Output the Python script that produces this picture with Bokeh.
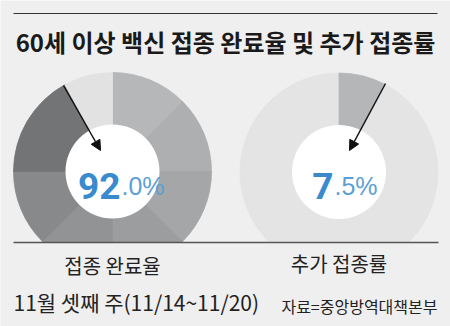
import math
from bokeh.plotting import figure
from bokeh.models import Range1d, Arrow, NormalHead
from bokeh.core.properties import value
from bokeh.embed import file_html
from bokeh.resources import INLINE

# ---- data ----
title = "60세 이상 백신 접종 완료율 및 추가 접종률"
labels = ["접종 완료율", "추가 접종률"]
rates = [92.0, 7.5]
# decorative shading of the completed share (sums to 92.0)
done_parts = [12.5, 12.5, 12.5, 12.5, 12.5, 12.5, 17.0]
done_colors = ["#b6b7b9", "#aeafb1", "#a5a6a8", "#9c9d9f", "#929395", "#88898b", "#737476"]
period = "11월 셋째 주(11/14~11/20)"
source = "자료=중앙방역대책본부"

W, H = 450, 326
BG = "#efefef"
KR = "Noto Sans CJK KR"

p = figure(width=W, height=H, output_backend="svg", toolbar_location=None,
           x_range=Range1d(0, W), y_range=Range1d(0, H), min_border=0)
p.axis.visible = False
p.grid.visible = False
p.outline_line_color = None
p.background_fill_color = BG
p.border_fill_color = BG

def Y(py):
    return H - py

R_OUT, R_IN = 99, 47
centers = [(112, 171), (338.5, 171.5)]

def ang(frac):
    return math.pi / 2 - 2 * math.pi * frac

# left donut
cx, cy = centers[0]
cum = 0.0
for part, col in zip(done_parts, done_colors):
    p.annular_wedge(x=cx, y=Y(cy), inner_radius=R_IN - 1, outer_radius=R_OUT,
                    start_angle=ang(cum / 100), end_angle=ang((cum + part) / 100),
                    direction="clock", fill_color=col, line_color=col, line_width=0.8)
    cum += part
p.annular_wedge(x=cx, y=Y(cy), inner_radius=R_IN - 1, outer_radius=R_OUT,
                start_angle=ang(rates[0] / 100), end_angle=ang(1.0),
                direction="clock", fill_color="#e2e2e2", line_color="#e2e2e2", line_width=0.8)

# right donut
cx, cy = centers[1]
p.annular_wedge(x=cx, y=Y(cy), inner_radius=R_IN - 1, outer_radius=R_OUT,
                start_angle=ang(rates[1] / 100), end_angle=ang(1.0),
                direction="clock", fill_color="#e4e4e4", line_color="#e4e4e4", line_width=0.8)
p.annular_wedge(x=cx, y=Y(cy), inner_radius=R_IN - 1, outer_radius=R_OUT,
                start_angle=ang(0), end_angle=ang(rates[1] / 100),
                direction="clock", fill_color="#b5b6b8", line_color="#b5b6b8", line_width=0.8)

for (cx, cy) in centers:
    p.circle(x=cx, y=Y(cy), radius=R_IN, fill_color="white", line_color=None)

# clip the bottom of the donuts
p.quad(left=0, right=W, bottom=0, top=Y(242), fill_color=BG, line_color=None)
p.segment(x0=13, y0=Y(242), x1=438, y1=Y(242), line_color="#555555", line_width=1.5)

# title rule + title
p.segment(x0=13, y0=Y(13), x1=437, y1=Y(13), line_color="#333333", line_width=1)
p.text(x=[225], y=[Y(41)], text=[title], text_font=value(KR), text_font_style="bold",
       text_font_size="24px", text_align="center", text_baseline="middle", text_color="#1a1a1a")

# arrows
p.add_layout(Arrow(x_start=63, y_start=Y(85), x_end=100, y_end=Y(150),
                   line_color="#111111", line_width=1.5,
                   end=NormalHead(size=10, fill_color="#111111", line_color="#111111")))
p.add_layout(Arrow(x_start=385, y_start=Y(83), x_end=349, y_end=Y(150),
                   line_color="#111111", line_width=1.5,
                   end=NormalHead(size=10, fill_color="#111111", line_color="#111111")))

# centre numbers
def split(v):
    s = f"{v:.1f}"
    a, b = s.split(".")
    return a, "." + b + "%"

num_x = [120, 333]
for (cx, cy), v, nx in zip(centers, rates, num_x):
    big, small = split(v)
    p.text(x=[nx], y=[Y(185)], text=[big], text_font=value("Roboto"),
           text_font_size="37px", text_font_style="bold", text_align="right",
           text_baseline="alphabetic", text_color="#3a8bce")
    p.text(x=[nx + 1], y=[Y(185)], text=[small], text_font=value("Liberation Sans"),
           text_font_size="25px", text_align="left", text_baseline="alphabetic",
           text_color="#5c9fd6")

# labels
for (cx, cy), lab, ly in zip(centers, labels, [265, 263]):
    p.text(x=[cx], y=[Y(ly)], text=[lab], text_font=value(KR), text_font_size="20px",
           text_align="center", text_baseline="middle", text_color="#222222")

p.text(x=[13], y=[Y(301)], text=[period], text_font=value(KR), text_font_size="21px",
       text_align="left", text_baseline="middle", text_color="#222222")
p.text(x=[437], y=[Y(305)], text=[source], text_font=value(KR), text_font_size="16px",
       text_align="right", text_baseline="middle", text_color="#222222")

open("out.html", "w").write(file_html(p, INLINE))
